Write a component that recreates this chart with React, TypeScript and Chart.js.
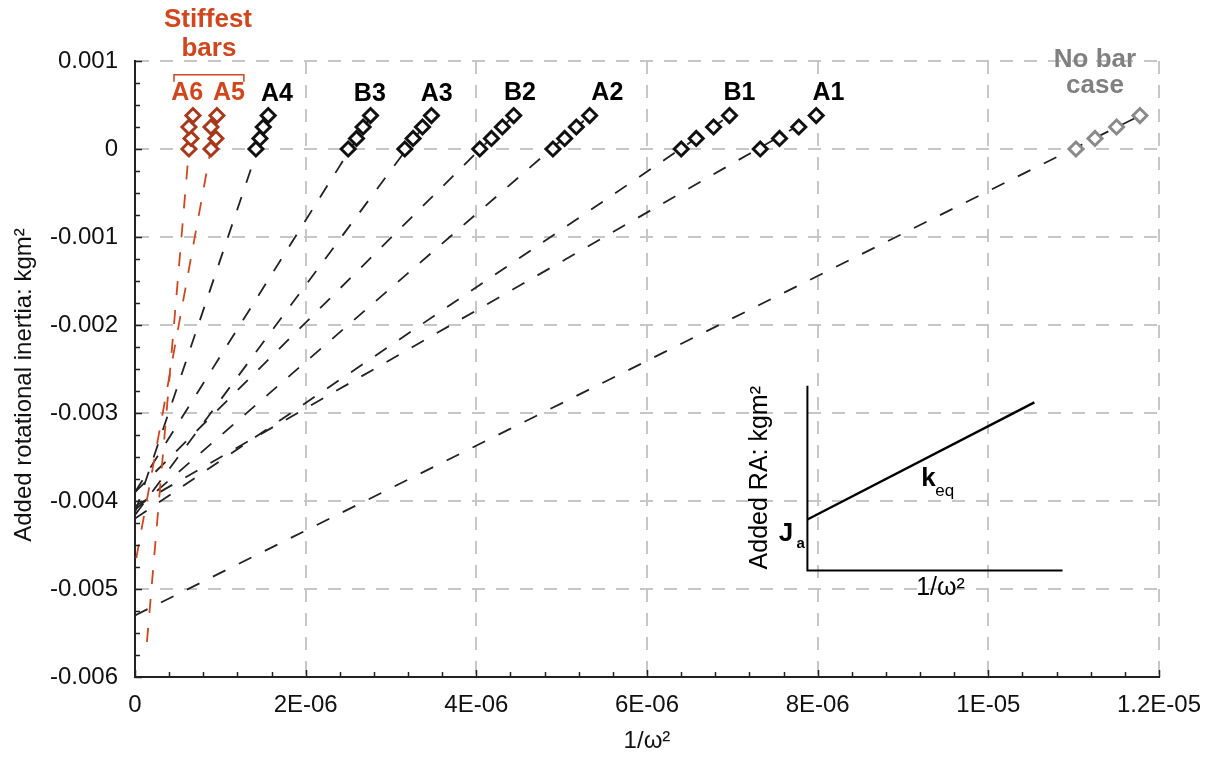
import { useEffect, useRef } from 'react';
import { Chart, registerables } from 'chart.js';

Chart.register(...registerables);

const FONT = "'Liberation Sans', Arial, sans-serif";
const RED = '#d2461e';
const RED_MARK = '#a8381a';
const GREY = '#8a8a8a';
const BLACK = '#111111';

// Axis ticks
const xTickValues = [0, 2e-6, 4e-6, 6e-6, 8e-6, 1e-5, 1.2e-5];
const xTickLabels = ['0', '2E-06', '4E-06', '6E-06', '8E-06', '1E-05', '1.2E-05'];
const yTickValues = [0.001, 0, -0.001, -0.002, -0.003, -0.004, -0.005, -0.006];
const yTickLabels = ['0.001', '0', '-0.001', '-0.002', '-0.003', '-0.004', '-0.005', '-0.006'];

// Series
const seriesNames = ['A6', 'A5', 'A4', 'B3', 'A3', 'B2', 'A2', 'B1', 'A1', 'No bar case'];
const markerY = [0, 0.00012, 0.00025, 0.00038];
const xA6 = [0.632e-6, 0.656e-6, 0.632e-6, 0.679e-6];
const xA5 = [0.89e-6, 0.948e-6, 0.89e-6, 0.96e-6];
const xA4 = [1.417e-6, 1.464e-6, 1.503e-6, 1.561e-6];
const xB3 = [2.498e-6, 2.596e-6, 2.673e-6, 2.76e-6];
const xA3 = [3.162e-6, 3.259e-6, 3.369e-6, 3.474e-6];
const xB2 = [4.04e-6, 4.177e-6, 4.305e-6, 4.438e-6];
const xA2 = [4.898e-6, 5.035e-6, 5.172e-6, 5.328e-6];
const xB1 = [6.401e-6, 6.577e-6, 6.78e-6, 6.967e-6];
const xA1 = [7.327e-6, 7.553e-6, 7.779e-6, 7.983e-6];
const xNoBar = [11.027e-6, 11.25e-6, 11.503e-6, 11.777e-6];
const seriesX = [xA6, xA5, xA4, xB3, xA3, xB2, xA2, xB1, xA1, xNoBar];
const markerColors = [RED_MARK, RED_MARK, BLACK, BLACK, BLACK, BLACK, BLACK, BLACK, BLACK, GREY];

// Extrapolated linear fits (dashed)
const trendStartX = [0.14e-6, 0.015e-6, 0, 0, 0, 0, 0, 0, 0, 0];
const trendStartY = [-0.0056, -0.00465, -0.00413, -0.0039, -0.00416, -0.0039, -0.0041, -0.0042, -0.00406, -0.0053];
const trendEndX = [0.666e-6, 0.96e-6, 1.57e-6, 2.77e-6, 3.475e-6, 4.44e-6, 5.33e-6, 6.97e-6, 7.98e-6, 11.78e-6];
const trendEndY = [0.00038, 0.00038, 0.00038, 0.00038, 0.00038, 0.00038, 0.00038, 0.00038, 0.00038, 0.00038];
const trendColors = [RED, RED, '#222', '#222', '#222', '#222', '#222', '#222', '#222', '#222'];

// Series labels above the markers
const labelTexts = ['A6', 'A5', 'A4', 'B3', 'A3', 'B2', 'A2', 'B1', 'A1'];
const labelX = [0.612e-6, 1.101e-6, 1.663e-6, 2.752e-6, 3.536e-6, 4.512e-6, 5.535e-6, 7.084e-6, 8.126e-6];
const labelY = [0.00064, 0.00064, 0.00062, 0.00062, 0.00062, 0.00064, 0.00064, 0.00064, 0.00064];
const labelColors = [RED, RED, '#000', '#000', '#000', '#000', '#000', '#000', '#000'];

// Group captions
const captionTexts = ['Stiffest', 'bars', 'No bar', 'case'];
const captionX = [0.855e-6, 0.866e-6, 11.25e-6, 11.25e-6];
const captionY = [0.00147, 0.00114, 0.00101, 0.00072];
const captionColors = [RED, RED, '#808080', '#808080'];
const bracketX = [0.457e-6, 1.276e-6];
const bracketY = [0.000844, 0.000765];

// Inset schematic (data coordinates)
const insetAxisX = 7.88e-6;
const insetAxisTop = -0.00269;
const insetAxisBottom = -0.00479;
const insetAxisRight = 10.87e-6;
const insetLineX = [7.88e-6, 10.54e-6];
const insetLineY = [-0.00421, -0.00288];

const overlay = {
  id: 'overlay',
  afterDraw(chart: any) {
    const { ctx, chartArea, scales } = chart;
    const X = (v: number) => scales.x.getPixelForValue(v);
    const Y = (v: number) => scales.y.getPixelForValue(v);
    ctx.save();

    // inward tick marks
    ctx.strokeStyle = '#222';
    ctx.lineWidth = 1.5;
    for (let i = 0; i <= 30; i++) {
      const px = Math.round(X(i * 0.4e-6)) + 0.5;
      ctx.beginPath();
      ctx.moveTo(px, chartArea.bottom);
      ctx.lineTo(px, chartArea.bottom - (i % 5 === 0 ? 7 : 5));
      ctx.stroke();
    }
    for (let i = 0; i <= 28; i++) {
      const py = Math.round(Y(-0.006 + i * 0.00025)) + 0.5;
      ctx.beginPath();
      ctx.moveTo(chartArea.left, py);
      ctx.lineTo(chartArea.left + (i % 4 === 0 ? 7 : 5), py);
      ctx.stroke();
    }

    const text = (s: string, xv: number, yv: number, font: string, color: string) => {
      ctx.font = font;
      ctx.fillStyle = color;
      ctx.textAlign = 'center';
      ctx.textBaseline = 'middle';
      ctx.fillText(s, X(xv), Y(yv));
    };

    // series labels
    labelTexts.forEach((t, i) => text(t, labelX[i], labelY[i], `bold 25px ${FONT}`, labelColors[i]));
    captionTexts.forEach((t, i) => text(t, captionX[i], captionY[i], `bold 26px ${FONT}`, captionColors[i]));

    // bracket over A6 A5
    ctx.strokeStyle = RED;
    ctx.lineWidth = 1.5;
    ctx.beginPath();
    ctx.moveTo(X(bracketX[0]), Y(bracketY[1]));
    ctx.lineTo(X(bracketX[0]), Y(bracketY[0]));
    ctx.lineTo(X(bracketX[1]), Y(bracketY[0]));
    ctx.lineTo(X(bracketX[1]), Y(bracketY[1]));
    ctx.stroke();

    // inset
    ctx.strokeStyle = '#000';
    ctx.lineWidth = 2;
    ctx.beginPath();
    ctx.moveTo(X(insetAxisX), Y(insetAxisTop));
    ctx.lineTo(X(insetAxisX), Y(insetAxisBottom));
    ctx.lineTo(X(insetAxisRight), Y(insetAxisBottom));
    ctx.stroke();
    ctx.lineWidth = 2.4;
    ctx.beginPath();
    ctx.moveTo(X(insetLineX[0]), Y(insetLineY[0]));
    ctx.lineTo(X(insetLineX[1]), Y(insetLineY[1]));
    ctx.stroke();

    text('J', 7.628e-6, -0.00437, `bold 26px ${FONT}`, '#000');
    text('a', 7.80e-6, -0.00449, `bold 15px ${FONT}`, '#000');
    text('k', 9.30e-6, -0.003746, `bold 26px ${FONT}`, '#000');
    text('eq', 9.49e-6, -0.00389, `17px ${FONT}`, '#000');
    text('1/\u03c9\u00b2', 9.44e-6, -0.004985, `25px ${FONT}`, '#000');

    ctx.save();
    ctx.translate(X(7.33e-6), Y(-0.003735));
    ctx.rotate(-Math.PI / 2);
    ctx.font = `25px ${FONT}`;
    ctx.fillStyle = '#000';
    ctx.textAlign = 'center';
    ctx.textBaseline = 'middle';
    ctx.fillText('Added RA: kgm\u00b2', 0, 0);
    ctx.restore();

    // axis titles
    ctx.save();
    ctx.translate(24, (chartArea.top + chartArea.bottom) / 2 + 16);
    ctx.rotate(-Math.PI / 2);
    ctx.font = `24px ${FONT}`;
    ctx.fillStyle = '#111';
    ctx.textAlign = 'center';
    ctx.textBaseline = 'middle';
    ctx.fillText('Added rotational inertia: kgm\u00b2', 0, 0);
    ctx.restore();

    ctx.font = `24px ${FONT}`;
    ctx.fillStyle = '#111';
    ctx.textAlign = 'center';
    ctx.textBaseline = 'middle';
    ctx.fillText('1/\u03c9\u00b2', (chartArea.left + chartArea.right) / 2, 741);

    ctx.restore();
  },
};

export default function App() {
  const ref = useRef<HTMLCanvasElement | null>(null);

  useEffect(() => {
    if (!ref.current) return;
    const datasets: any[] = [];
    seriesNames.forEach((name, i) => {
      datasets.push({
        label: name,
        type: 'scatter',
        data: seriesX[i].map((xv, j) => ({ x: xv, y: markerY[j] })),
        showLine: false,
        pointStyle: 'rectRot',
        pointRadius: 7,
        pointBorderWidth: 3,
        pointBackgroundColor: '#fff',
        pointBorderColor: markerColors[i],
        borderColor: markerColors[i],
        backgroundColor: '#fff',
        order: 0,
      });
      datasets.push({
        label: name + ' fit',
        type: 'line',
        data: [
          { x: trendStartX[i], y: trendStartY[i] },
          { x: trendEndX[i], y: trendEndY[i] },
        ],
        borderColor: trendColors[i],
        borderWidth: 1.8,
        borderDash: [14, 15],
        pointRadius: 0,
        fill: false,
        order: 1,
      });
    });

    const chart = new Chart(ref.current, {
      type: 'scatter',
      data: { datasets },
      options: {
        animation: false,
        responsive: false,
        events: [],
        layout: { padding: { top: 61, right: 55, left: 0, bottom: 0 } },
        plugins: { legend: { display: false }, tooltip: { enabled: false } },
        scales: {
          x: {
            type: 'linear',
            min: 0,
            max: 1.2e-5,
            afterBuildTicks: (s: any) => {
              s.ticks = xTickValues.map((v) => ({ value: v }));
            },
            afterFit: (s: any) => {
              s.height = 81;
            },
            ticks: {
              autoSkip: false,
              maxRotation: 0,
              padding: 14,
              color: '#111',
              font: { family: FONT, size: 24 },
              callback: (_v: any, idx: number) => xTickLabels[idx],
            },
            grid: {
              drawTicks: false,
              lineWidth: 2,
              color: (c: any) => (c.tick && c.tick.value === 0 ? 'rgba(0,0,0,0)' : '#c6c6c6'),
            },
            border: { display: true, color: '#222', width: 2, dash: [13, 11] },
          },
          y: {
            type: 'linear',
            min: -0.006,
            max: 0.001,
            afterBuildTicks: (s: any) => {
              s.ticks = yTickValues.map((v) => ({ value: v }));
            },
            afterFit: (s: any) => {
              s.width = 135;
            },
            ticks: {
              autoSkip: false,
              padding: 17,
              color: '#111',
              font: { family: FONT, size: 24 },
              callback: (_v: any, idx: number) => yTickLabels[idx],
            },
            grid: {
              drawTicks: false,
              lineWidth: 2,
              color: (c: any) => (c.tick && c.tick.value === -0.006 ? 'rgba(0,0,0,0)' : '#c6c6c6'),
            },
            border: { display: true, color: '#222', width: 2, dash: [13, 11] },
          },
        },
      },
      plugins: [overlay],
    } as any);
    return () => chart.destroy();
  }, []);

  return (
    <div style={{ position: 'fixed', left: 0, top: 0, width: 1215, height: 758, background: '#fff' }}>
      <canvas ref={ref} width={1215} height={758} style={{ display: 'block' }} />
    </div>
  );
}
